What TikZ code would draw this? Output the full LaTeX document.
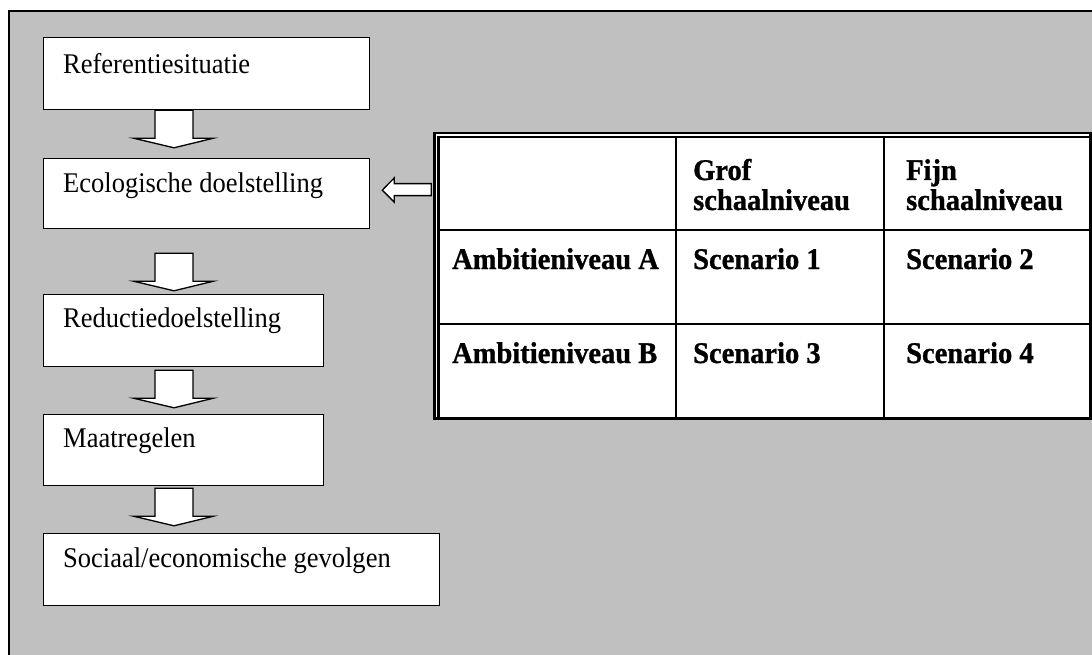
\documentclass[tikz,border=0pt]{standalone}
\usepackage{fontspec}
\setmainfont[FakeStretch=0.93]{Liberation Serif}
\newfontfamily\tblfont[FakeStretch=0.95,FakeBold=1]{Liberation Serif}
\usetikzlibrary{calc}
\definecolor{panel}{HTML}{C0C0C0}

\tikzset{
  box/.style={draw=black, fill=white, line width=1.3pt, rectangle, inner sep=0pt, anchor=north west},
  lbl/.style={anchor=base west, inner sep=0pt, font=\fontsize{28.5}{30}\selectfont},
  cell/.style={anchor=base west, inner sep=0pt, align=left, font=\tblfont\bfseries\fontsize{30}{30}\selectfont},
  blockarr/.style={draw=black, fill=white, line width=1.3pt, line join=miter},
  downarr/.pic={\draw[blockarr] (-19,0) -- (-19,28) -- (-40,28) -- (0,37.5) -- (39,28) -- (19,28) -- (19,0) -- cycle;},
  leftarr/.pic={\draw[blockarr] (0,0) -- (12,-12.3) -- (12,-6.5) -- (49,-6.5) -- (49,5.5) -- (12,5.5) -- (12,12) -- cycle;},
  rule/.style={draw=black, line width=2.6pt}
}

\begin{document}
\begin{tikzpicture}[x=1pt, y=-1pt]
\useasboundingbox (0,0) rectangle (1092,655);

% grey panel, open towards the right and bottom
\fill[panel] (9,11) rectangle (1092,655);
\draw[line width=1.4pt] (1092,11) -- (9,11) -- (9,655);

% chain of steps
\node[box, minimum width=326, minimum height=72] (ref)  at (43,37)  {};
\node[box, minimum width=326, minimum height=70] (eco)  at (43,158) {};
\node[box, minimum width=280, minimum height=72] (red)  at (43,294) {};
\node[box, minimum width=280, minimum height=71] (maat) at (43,414) {};
\node[box, minimum width=396, minimum height=72] (soc)  at (43,533) {};

\node[lbl] (reft)  at ($(ref.north west)+(20,36.5)$)  {Referentiesituatie};
\node[lbl] (ecot)  at ($(eco.north west)+(20,35)$)  {Ecologische doelstelling};
\node[lbl] (redt)  at ($(red.north west)+(20,33)$)  {Reductiedoelstelling};
\node[lbl] (maatt) at ($(maat.north west)+(20,33)$) {Maatregelen};
\node[lbl] (soct)  at ($(soc.north west)+(20,34)$)  {Sociaal/economische gevolgen};

% block arrows between the steps
\pic at ($(ref.south west)+(131,0)$)  {downarr};
\pic at ($(eco.south west)+(131,24)$) {downarr};
\pic at ($(red.south west)+(131,3)$)  {downarr};
\pic at ($(maat.south west)+(131,2)$) {downarr};

% scenario table
\node[fill=white, rectangle, inner sep=0pt, anchor=north west,
      minimum width=659, minimum height=288] (tbl) at (433,132) {};
\pic at ($(eco.east)+(12,-3.5)$) {leftarr};

% double border on the left and top, heavy border on the right and bottom
\draw[line width=2.5pt] (434.6,420) -- (434.6,133) -- (1092,133);
\draw[line width=2.5pt] (438.7,420) -- (438.7,137) -- (1089,137);
\draw[line width=3.3pt] (1090.4,133) -- (1090.4,420);
\draw[line width=3.3pt] (433.4,418.4) -- (1092,418.4);
% inner grid
\draw[rule] (676,137) -- (676,418);
\draw[rule] (884,137) -- (884,418);
\draw[rule] (438,230) -- (1090,230);
\draw[rule] (438,324) -- (1090,324);

\node[cell] (h1) at (693,210) {Grof\\schaalniveau};
\node[cell] (h2) at (906,210) {Fijn\\schaalniveau};
\node[cell] (ra) at (452,269) {Ambitieniveau A};
\node[cell] (s1) at (693,269) {Scenario 1};
\node[cell] (s2) at (906,269) {Scenario 2};
\node[cell] (rb) at (452,363) {Ambitieniveau B};
\node[cell] (s3) at (693,363) {Scenario 3};
\node[cell] (s4) at (906,363) {Scenario 4};
\end{tikzpicture}
\end{document}
